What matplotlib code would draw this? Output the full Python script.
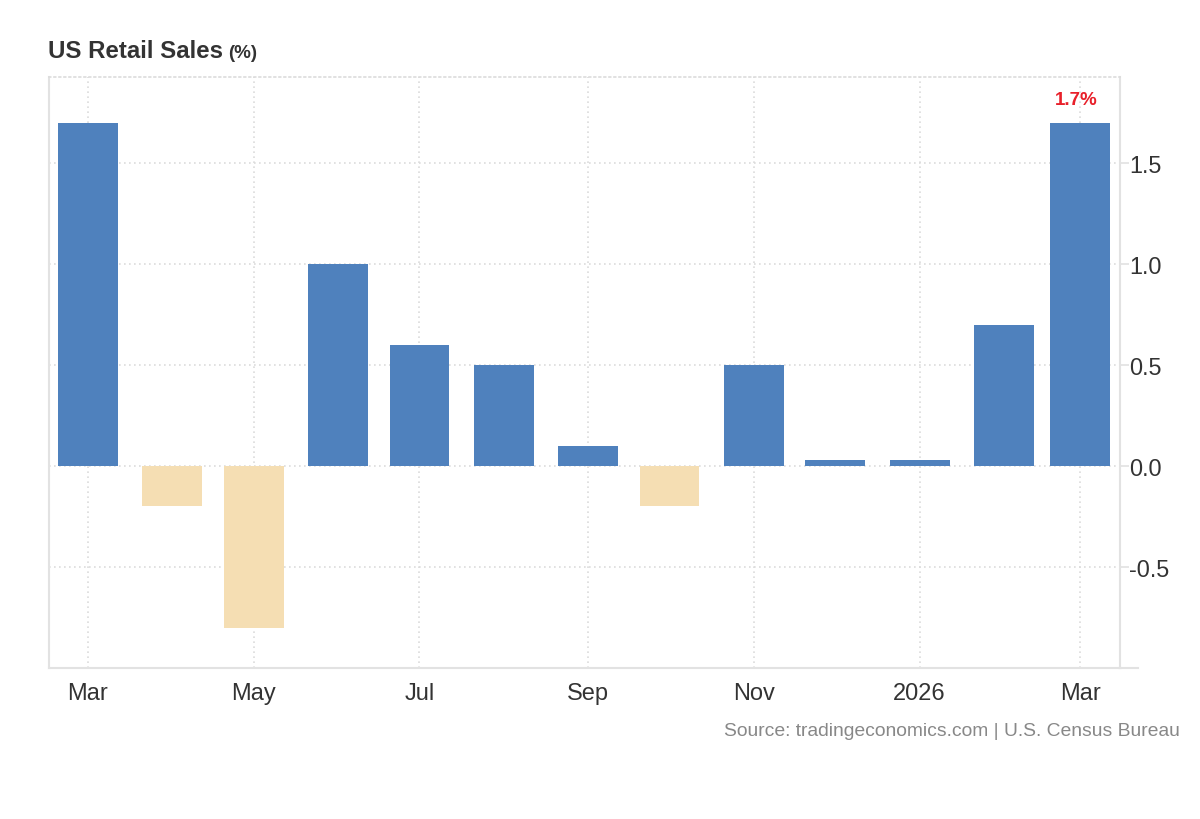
import numpy as np
import pandas as pd
import matplotlib.pyplot as plt
import matplotlib.dates as mdates

plt.rcParams['font.family'] = ['Liberation Sans', 'DejaVu Sans']

# monthly change, Mar 2025 .. Mar 2026
dates = pd.date_range("2025-03-01", "2026-03-01", freq="MS")
values = [1.7, -0.2, -0.8, 1.0, 0.6, 0.5, 0.1, -0.2, 0.5, 0.03, 0.03, 0.7, 1.7]
tick_dates = pd.to_datetime(["2025-03-01", "2025-05-01", "2025-07-01", "2025-09-01",
                             "2025-11-01", "2026-01-01", "2026-03-01"])
tick_labels = ["Mar", "May", "Jul", "Sep", "Nov", "2026", "Mar"]
y_ticks = [-0.5, 0.0, 0.5, 1.0, 1.5]

blue = "#4f81bd"
wheat = "#f5deb3"
grid_col = "#dcdcdc"
spine_col = "#e2e2e2"
text_col = "#333333"

fig = plt.figure(figsize=(12, 8.2), dpi=100)
ax = fig.add_axes([0.0408, 0.1841, 0.8925, 0.7207])

colors = [blue if v >= 0 else wheat for v in values]
ax.bar(dates, values, width=22, color=colors, zorder=2)

ax.set_xlim(dates[0] - pd.Timedelta(days=14.3), dates[-1] + pd.Timedelta(days=14.7))
ax.set_ylim(-1.0, 1.926)

ax.set_xticks(tick_dates)
ax.set_xticklabels(tick_labels)
ax.set_yticks(y_ticks)
ax.set_yticklabels(["%.1f" % t for t in y_ticks])

ax.yaxis.tick_right()
ax.tick_params(axis='y', length=6.5, width=1.2, color=spine_col, labelsize=16.8,
               labelcolor=text_col, pad=0)
ax.tick_params(axis='x', length=0, labelsize=17, labelcolor=text_col, pad=10)

ax.grid(True, linestyle=(0, (1, 2)), color=grid_col, linewidth=1.2, zorder=0)

for side in ['left', 'bottom', 'right']:
    ax.spines[side].set_color(spine_col)
    ax.spines[side].set_linewidth(1.5)
ax.spines['top'].set_color(grid_col)
ax.spines['top'].set_linestyle((0, (1, 2)))
ax.spines['top'].set_linewidth(1.2)

# bottom line runs a bit past the right spine
ax.plot([1.0, 1.017], [0, 0], transform=ax.transAxes, color=spine_col,
        linewidth=1.5, clip_on=False)

# last value label
ax.text(dates[-1] - pd.Timedelta(days=1.5), values[-1] + 0.075, "%.1f%%" % values[-1],
        color="#e8202a", fontsize=13.5, fontweight='bold', ha='center', va='bottom')

fig.text(48 / 1200, 1 - 52 / 820, "US Retail Sales", fontsize=17.3, fontweight='bold',
         color=text_col, ha='left', va='center')
fig.text(228 / 1200, 1 - 53.5 / 820, "(%)", fontsize=13.5, fontweight='bold',
         color=text_col, ha='left', va='center')
fig.text(1180 / 1200, 1 - 732 / 820, "Source: tradingeconomics.com | U.S. Census Bureau",
         fontsize=13.9, color="#888888", ha='right', va='center')

fig.savefig("out.png", dpi=100)
